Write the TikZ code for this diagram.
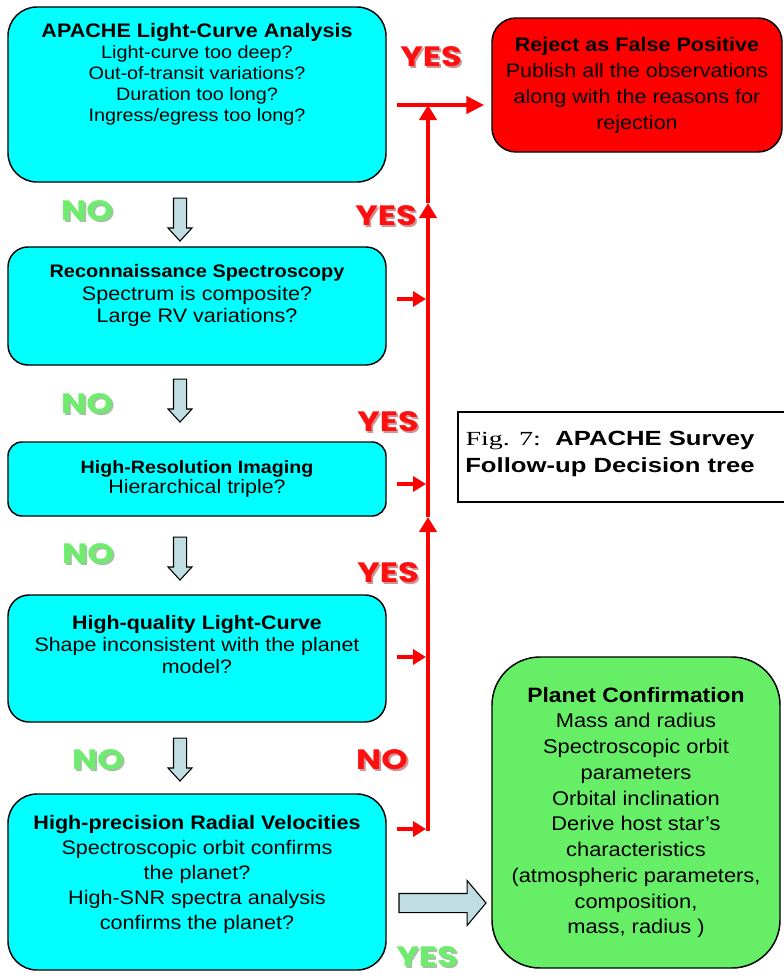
\documentclass[tikz,border=0pt]{standalone}
\usepackage{fontspec}
\setmainfont{Liberation Sans}[FakeStretch=1.1]
\newfontfamily\figfont{Liberation Serif}[FakeStretch=1.4]
\newfontfamily\capfont{Liberation Sans}[FakeStretch=1.25]
\newfontfamily\answerfont{Poppins}[FakeStretch=1.2]
\usepackage{tikz}
\usetikzlibrary{shapes.arrows,arrows.meta,positioning,calc}

\definecolor{qcyan}{RGB}{0,255,255}
\definecolor{rejred}{RGB}{255,0,0}
\definecolor{okgreen}{RGB}{102,238,102}
\definecolor{arrowfill}{RGB}{192,222,226}
\definecolor{nogreen}{RGB}{110,236,110}
\definecolor{noshadow}{RGB}{160,196,160}
\definecolor{yesred}{RGB}{255,16,16}
\definecolor{yesshadow}{RGB}{205,150,150}

\newcommand{\shadowed}[3]{\makebox[0pt][l]{\hspace{1.4pt}\raisebox{-1.4pt}{\color{#2}#3}}{\color{#1}#3}}
\newcommand{\redans}[1]{\shadowed{yesred}{yesshadow}{#1}}
\newcommand{\greenans}[1]{\shadowed{nogreen}{noshadow}{#1}}

\begin{document}
\begin{tikzpicture}[
  x=0.75pt, y=-0.75pt,
  qbox/.style={draw, line width=1.1pt, fill=qcyan, minimum width=283.5pt, inner sep=0pt},
  qtext/.style={inner sep=0pt, align=center},
  endbox/.style={draw, line width=1.1pt, minimum width=216pt, inner sep=0pt, align=center},
  downarr/.style={single arrow, draw, line width=0.8pt, fill=arrowfill, rotate=-90,
                  minimum height=32.25pt, inner xsep=0pt, inner ysep=4.5pt,
                  single arrow head extend=4.1pt, single arrow tip angle=85},
  rightarr/.style={single arrow, draw, line width=0.8pt, fill=arrowfill,
                  minimum height=65.25pt, inner xsep=0pt, inner ysep=6.75pt,
                  single arrow head extend=9.75pt, single arrow tip angle=100},
  redarr/.style={draw=rejred, line width=3.4pt, -{Triangle[length=9.75pt,width=11.25pt]}},
  trunk/.style={draw=rejred, line width=3.4pt, -{Triangle[length=11.25pt,width=12.75pt]}},
  answer/.style={inner sep=0pt, font=\answerfont\bfseries\fontsize{21pt}{24pt}\selectfont}
]
\useasboundingbox (0,0) rectangle (783,979);

\node[qbox, minimum height=131.25pt, rounded corners=21.75pt] (lc) at (197,94.5) {};
\node[qtext, font=\fontsize{13.5pt}{15.75pt}\selectfont, below=12.75pt of lc.north] (lc-t)
  {{\bfseries\fontsize{14.7pt}{15.75pt}\selectfont APACHE Light-Curve Analysis}\\
   Light-curve too deep?\\ Out-of-transit variations?\\ Duration too long?\\ Ingress/egress too long?};

\node[qbox, minimum height=88.5pt, rounded corners=15pt] (recon) at (197,306) {};
\node[qtext, font=\fontsize{14.7pt}{16.9pt}\selectfont, below=13.5pt of recon.north] (recon-t)
  {{\bfseries\fontsize{13.6pt}{16.9pt}\selectfont Reconnaissance Spectroscopy}\\
   Spectrum is composite?\\ Large RV variations?};

\node[qbox, minimum height=55.5pt, rounded corners=10.5pt] (hri) at (197,479) {};
\node[qtext, font=\fontsize{14.6pt}{15pt}\selectfont, below=14pt of hri.north] (hri-t)
  {{\bfseries\fontsize{13.4pt}{15pt}\selectfont High-Resolution Imaging}\\
   Hierarchical triple?};

\node[qbox, minimum height=95.25pt, rounded corners=15.75pt] (hqlc) at (197,658.5) {};
\node[qtext, font=\fontsize{14.6pt}{16.5pt}\selectfont, below=15.75pt of hqlc.north] (hqlc-t)
  {{\bfseries High-quality Light-Curve}\\
   Shape inconsistent with the planet\\ model?};

\node[qbox, minimum height=132pt, rounded corners=21.75pt] (hprv) at (197,882) {};
\node[qtext, font=\fontsize{14.7pt}{18.75pt}\selectfont, below=16.5pt of hprv.north] (hprv-t)
  {{\bfseries High-precision Radial Velocities}\\
   Spectroscopic orbit confirms\\ the planet?\\ High-SNR spectra analysis\\ confirms the planet?};

\node[endbox, fill=rejred, minimum width=217.5pt, minimum height=100.5pt, rounded corners=18pt,
      font=\fontsize{14.7pt}{19.5pt}\selectfont] (reject) at (637,85)
  {{\bfseries Reject as False Positive}\\ Publish all the observations\\
   along with the reasons for\\ rejection};

\node[endbox, fill=okgreen, minimum height=233.25pt, rounded corners=36pt,
      font=\fontsize{14.9pt}{19.3pt}\selectfont] (confirm) at (636,812.5)
  {{\bfseries\fontsize{15.6pt}{19.3pt}\selectfont Planet Confirmation}\\ Mass and radius\\
   Spectroscopic orbit\\ parameters\\ Orbital inclination\\ Derive host star’s\\
   characteristics\\ (atmospheric parameters,\\ composition,\\ mass, radius )};

\node[align=center, inner sep=0pt, font=\capfont\bfseries\fontsize{15.4pt}{20pt}\selectfont] (caption) at (610,454)
  {{\figfont\mdseries\fontsize{15pt}{20pt}\selectfont Fig. 7:}\ \ APACHE Survey\\ Follow-up Decision tree};
\draw[line width=0.9pt] (795,412) -| (458,502) -- (795,502);

\node[downarr] (d1) at (180,216) {};
\node[downarr] (d2) at (180,397) {};
\node[downarr] (d3) at (180,555) {};
\node[downarr] (d4) at (180,756) {};
\node[rightarr] (r5) at (438.5,903) {};

\coordinate (j1) at (428,105);
\coordinate (j2) at (428,203);
\coordinate (j3) at (428,517);
\coordinate (j5) at (428,831);
\coordinate (t2) at (428,299);
\coordinate (t3) at (428,484);
\coordinate (t4) at (428,657);
\coordinate (t5) at (428,829);

\draw[trunk] (j5) -- (j3);
\draw[trunk] (j3) -- (j2);
\draw[trunk] (j2) -- (j1);
\draw[draw=rejred, line width=3.4pt, -{Triangle[length=13.5pt,width=12.75pt]}, shorten <=7.5pt, shorten >=5.25pt]
  (lc.east |- j1) -- (reject.west |- j1);
\draw[redarr, shorten <=7.5pt, shorten >=1.5pt] (recon.east |- t2) -- (t2);
\draw[redarr, shorten <=7.5pt, shorten >=1.5pt] (hri.east |- t3) -- (t3);
\draw[redarr, shorten <=7.5pt, shorten >=1.5pt] (hqlc.east |- t4) -- (t4);
\draw[redarr, shorten <=7.5pt, shorten >=1.5pt] (hprv.east |- t5) -- (t5);

\node[answer] (yes1) at (431,58) {\redans{YES}};
\node[answer] (yes2) at (386,217) {\redans{YES}};
\node[answer] (yes3) at (388,423) {\redans{YES}};
\node[answer] (yes4) at (388,574) {\redans{YES}};
\node[answer] (no5) at (382,761) {\redans{NO}};
\node[answer] (no1) at (87,212) {\greenans{NO}};
\node[answer] (no2) at (87,405) {\greenans{NO}};
\node[answer] (no3) at (88,555) {\greenans{NO}};
\node[answer] (no4) at (98,761) {\greenans{NO}};
\node[answer] (yes5) at (427,958) {\greenans{YES}};

\end{tikzpicture}
\end{document}
